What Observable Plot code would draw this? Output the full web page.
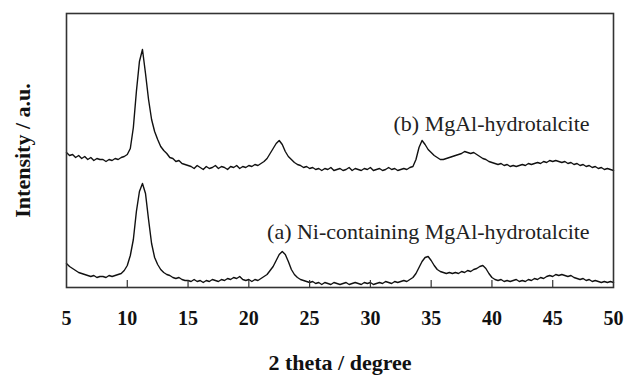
<!DOCTYPE html>
<html><head><meta charset="utf-8">
<script src="https://cdn.jsdelivr.net/npm/d3@7"></script>
<script src="https://cdn.jsdelivr.net/npm/@observablehq/plot@0.6"></script>
<style>body{margin:0;background:#fff}</style>
</head><body><div id="chart"></div>
<script>
// 2-theta sampling of the digitised patterns
const thetaStart = 5;
const thetaStep = 0.25;

// (a) Ni-containing MgAl-hydrotalcite (arbitrary units)
const seriesA = [
  24,21,19,17,15,14,13,12,11,12,10,11,11,10,12,11,12,13,14,17,22,
  32,48,76,96,104,94,68,44,30,23,18,15,13,12,10,9,10,8,7,7,
  6,8,6,7,5,7,6,8,7,6,8,7,9,8,10,9,11,8,7,8,6,8,7,9,
  11,13,17,21,27,33,36,33,26,18,13,10,
  8,7,6,5,6,4,5,3,5,4,3,5,4,3,4,5,3,4,5,4,3,5,4,5,3,4,5,4,6,5,4,6,5,6,7,6,8,10,
  14,20,26,30,31,27,22,18,16,15,
  14,15,14,15,14,16,15,17,16,18,19,21,22,19,14,10,
  8,7,8,6,7,6,7,8,6,7,6,8,7,9,8,10,9,11,12,11,13,12,13,12,11,12,10,9,8,9,7,8,6,7,6,5,6,5,6,5
];

// (b) MgAl-hydrotalcite (arbitrary units, offset above (a))
const seriesB = [
  135,132,133,130,132,129,131,128,130,127,129,128,128,126,128,127,129,128,130,131,133,
  139,160,196,226,238,214,188,168,156,148,141,137,134,130,129,126,127,124,123,122,
  121,119,122,120,118,121,119,120,122,119,121,120,118,121,120,122,119,121,120,122,121,123,122,124,
  126,129,134,139,144,147,143,136,131,128,125,123,
  122,120,121,119,120,118,119,117,119,118,120,117,118,119,117,118,120,117,119,118,117,119,118,120,117,118,119,117,118,120,118,119,117,118,119,118,120,121,
  128,140,147,143,138,135,132,130,128,128,
  129,130,131,132,133,134,136,135,134,135,133,131,129,128,126,125,
  124,123,124,122,123,121,122,121,122,123,122,124,123,124,125,124,126,125,127,126,127,126,125,126,124,125,123,124,122,123,121,122,120,121,119,120,118,119,118,117
];

const xTicks = [5, 10, 15, 20, 25, 30, 35, 40, 45, 50];
const xTitle = "2 theta / degree";
const yTitle = "Intensity / a.u.";
const labelText = ["(a) Ni-containing MgAl-hydrotalcite", "(b) MgAl-hydrotalcite"];
const labelTheta = [21.5, 31.9];
const labelIntensity = [56, 164];

const rows = [];
seriesA.forEach((v, i) => rows.push({series: "a", theta: thetaStart + i * thetaStep, intensity: v}));
seriesB.forEach((v, i) => rows.push({series: "b", theta: thetaStart + i * thetaStep, intensity: v}));
const labels = labelText.map((t, i) => ({text: t, theta: labelTheta[i], intensity: labelIntensity[i]}));

const serif = "'Liberation Serif', 'Times New Roman', serif";

const chart = Plot.plot({
  width: 624,
  height: 382,
  marginTop: 13,
  marginBottom: 95,
  marginLeft: 66,
  marginRight: 11,
  style: {fontFamily: serif, background: "white", color: "#111"},
  x: {domain: [5, 50]},
  y: {domain: [0, 274], axis: null},
  marks: [
    Plot.line(rows, {x: "theta", y: "intensity", z: "series", stroke: "#111", strokeWidth: 1.4}),
    Plot.frame({stroke: "#333", strokeWidth: 1.6}),
    Plot.ruleX(xTicks.slice(1, -1), {x: d => d, y1: 0, y2: 7, stroke: "#333", strokeWidth: 1.2}),
    Plot.axisX(xTicks, {tickSize: 0, tickPadding: 23, fontSize: 20, fontWeight: "bold", label: null, tickFormat: d => String(d)}),
    Plot.text([xTitle], {frameAnchor: "bottom", lineAnchor: "middle", dy: 75, fontSize: 22, fontWeight: "bold", fill: "#111"}),
    Plot.text([yTitle], {frameAnchor: "left", textAnchor: "middle", lineAnchor: "middle", dx: -44, rotate: -90, fontSize: 22, fontWeight: "bold", fill: "#111"}),
    Plot.text(labels, {x: "theta", y: "intensity", text: "text", textAnchor: "start", fontSize: 22, fill: "#222", letterSpacing: 1})
  ]
});
document.getElementById("chart").append(chart);
</script>
</body></html>
